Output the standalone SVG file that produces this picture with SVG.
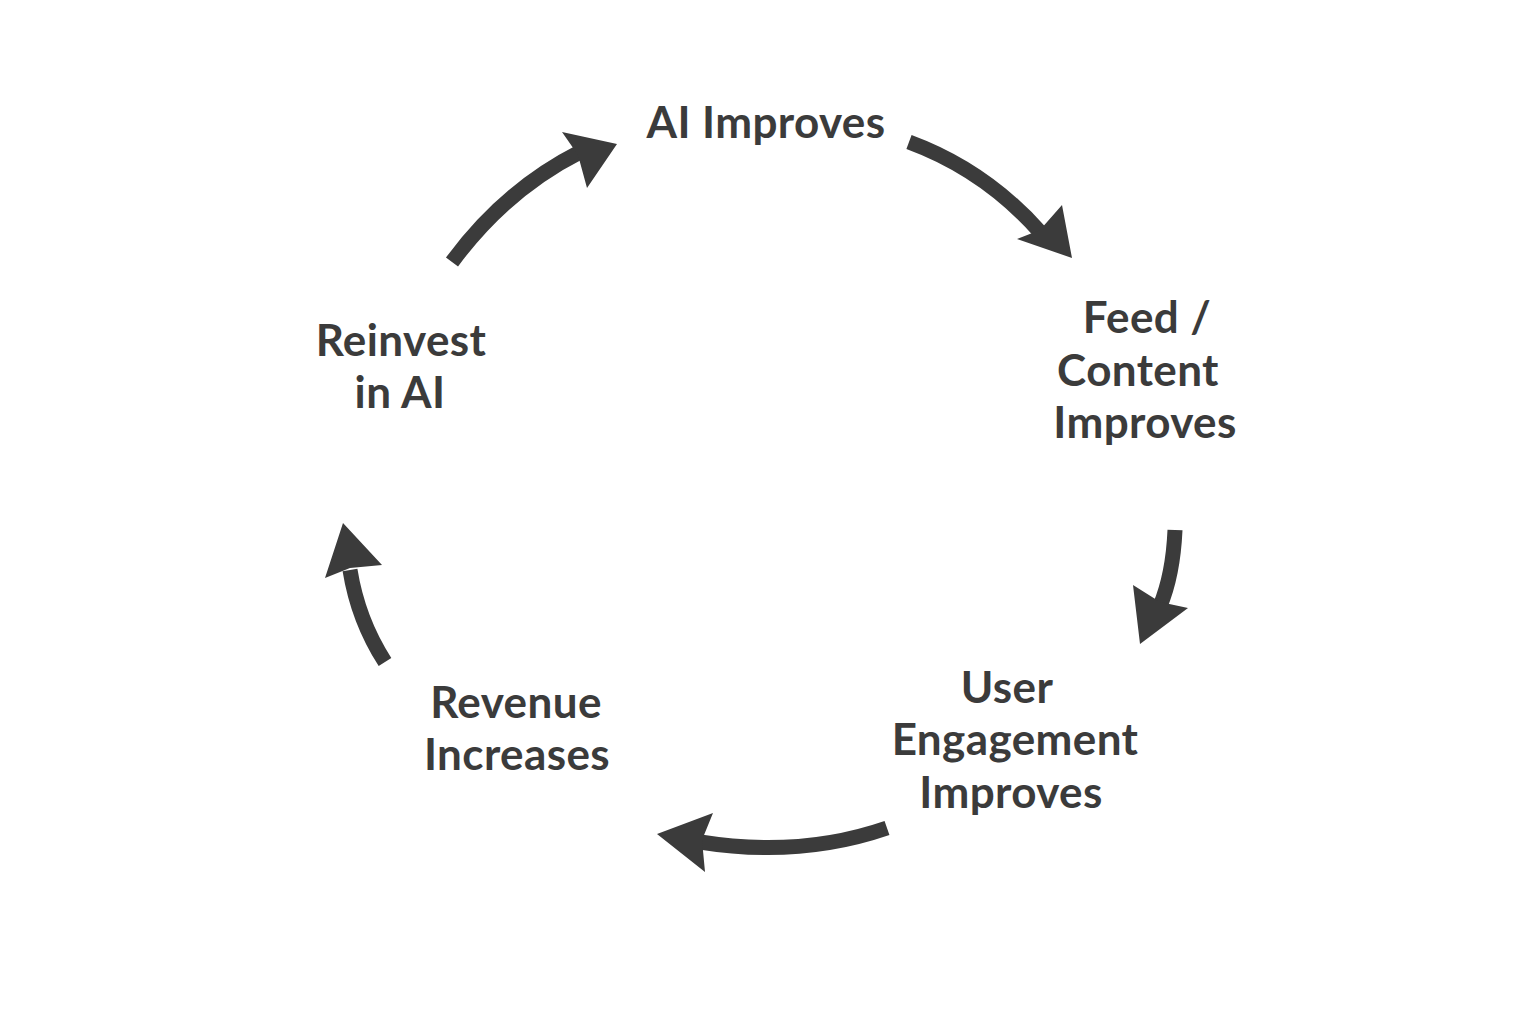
<svg xmlns="http://www.w3.org/2000/svg" width="1536" height="1024" viewBox="0 0 1536 1024">
<style>
.t{font-family:Lato,"Noto Sans",sans-serif;font-weight:700;font-size:44px;letter-spacing:0.4px;fill:#3b3b3b;text-anchor:middle}
.s{fill:none;stroke:#3b3b3b;stroke-width:15}
.h{fill:#3b3b3b}
</style>
<rect width="1536" height="1024" fill="#ffffff"/>
<g id="connectors">
<path class="s" d="M452,262 Q505,190 580,152"/>
<polygon class="h" points="617,144 562,132 578,155 587,188"/>
<path class="s" d="M909,142 Q985,170 1040,232"/>
<polygon class="h" points="1072,258 1062,205 1040,230 1017,239"/>
<path class="s" d="M1175,530 Q1173,575 1160,606"/>
<polygon class="h" points="1140,644 1133,585 1160,602 1188,608"/>
<path class="s" d="M887,828 Q800,858 700,842"/>
<polygon class="h" points="657,834 713,813 702,840 705,872"/>
<path class="s" d="M385,662 Q358,620 350,570"/>
<polygon class="h" points="343,523 325,578 350,568 382,565"/>
</g>
<g id="ai-improves"><text class="t" x="766" y="138">AI Improves</text></g>
<g id="feed-content"><text class="t" x="1147" y="333">Feed /</text><text class="t" x="1138" y="386">Content</text><text class="t" x="1145" y="438">Improves</text></g>
<g id="user-engagement"><text class="t" x="1007" y="703">User</text><text class="t" x="1015" y="755">Engagement</text><text class="t" x="1011" y="808">Improves</text></g>
<g id="revenue"><text class="t" x="516" y="718">Revenue</text><text class="t" x="517" y="770">Increases</text></g>
<g id="reinvest"><text class="t" x="401" y="356">Reinvest</text><text class="t" x="400" y="408">in AI</text></g>
</svg>
